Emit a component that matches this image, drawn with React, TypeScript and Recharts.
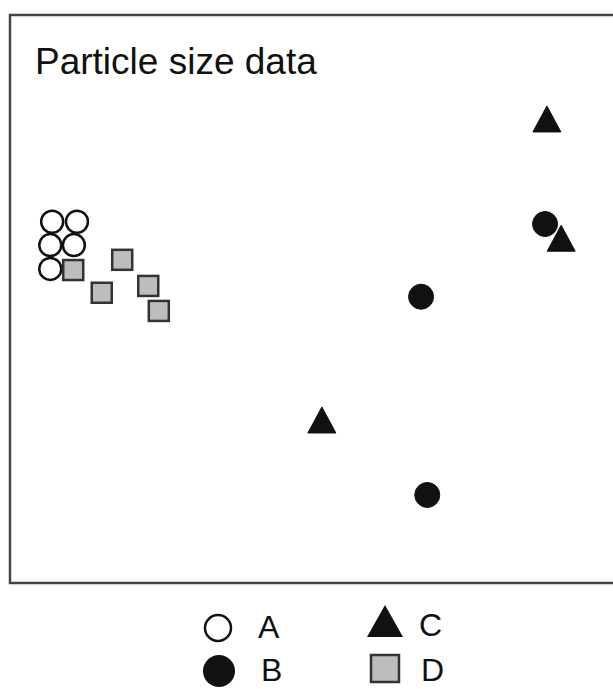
import React from "react";
import { ScatterChart, Scatter, XAxis, YAxis, ReferenceArea, Customized } from "recharts";

const chartTitle = "Particle size data";
const seriesNames = ["A", "B", "C", "D"];

const seriesA = [
  { x: 0.68, y: 6.36 },
  { x: 1.08, y: 6.36 },
  { x: 0.65, y: 5.95 },
  { x: 1.03, y: 5.95 },
  { x: 0.65, y: 5.53 },
];
const seriesB = [
  { x: 8.63, y: 6.32 },
  { x: 6.63, y: 5.04 },
  { x: 6.73, y: 1.55 },
];
const seriesC = [
  { x: 8.66, y: 8.17 },
  { x: 8.89, y: 6.07 },
  { x: 5.03, y: 2.87 },
];
const seriesD = [
  { x: 1.02, y: 5.51 },
  { x: 1.81, y: 5.69 },
  { x: 1.48, y: 5.11 },
  { x: 2.23, y: 5.23 },
  { x: 2.4, y: 4.79 },
];

const FONT = "'Liberation Sans', Arial, Helvetica, sans-serif";

const OpenCircle = (p: any) => (
  <circle cx={p.cx} cy={p.cy} r={11} fill="#fff" stroke="#111" strokeWidth={2.5} />
);
const FilledCircle = (p: any) => (
  <circle cx={p.cx} cy={p.cy} r={12.5} fill="#111" stroke="#111" strokeWidth={1} />
);
const Triangle = (p: any) => {
  const w = 28;
  const h = 26;
  const { cx, cy } = p;
  return (
    <polygon
      points={`${cx},${cy - h / 2} ${cx + w / 2},${cy + h / 2} ${cx - w / 2},${cy + h / 2}`}
      fill="#111"
      stroke="#111"
      strokeWidth={1}
    />
  );
};
const Square = (p: any) => (
  <rect x={p.cx - 10} y={p.cy - 10} width={20} height={20} fill="#bdbdbd" stroke="#333" strokeWidth={2.5} />
);

const LegendBlock = () => (
  <g transform="translate(190,600)">
    <circle cx={28} cy={28} r={13} fill="#fff" stroke="#111" strokeWidth={2.5} />
    <text x={68} y={38} fontFamily={FONT} fontSize={32} fill="#111">{seriesNames[0]}</text>
    <circle cx={29} cy={71} r={16} fill="#111" />
    <text x={71} y={81} fontFamily={FONT} fontSize={32} fill="#111">{seriesNames[1]}</text>
    <polygon points="195,5 213,37 177,37" fill="#111" />
    <text x={229} y={36} fontFamily={FONT} fontSize={32} fill="#111">{seriesNames[2]}</text>
    <rect x={181} y={55} width={28} height={27} fill="#bdbdbd" stroke="#333" strokeWidth={2.5} />
    <text x={231} y={81} fontFamily={FONT} fontSize={32} fill="#111">{seriesNames[3]}</text>
  </g>
);

export default function App() {
  return (
    <div
      style={{
        position: "absolute",
        left: 0,
        top: 0,
        width: 613,
        height: 689,
        overflow: "hidden",
        background: "#fff",
      }}
    >
      <ScatterChart width={640} height={689} margin={{ top: 15, right: 10, bottom: 106, left: 10 }}>
        <XAxis type="number" dataKey="x" domain={[0, 10]} hide />
        <YAxis type="number" dataKey="y" domain={[0, 10]} hide />
        <ReferenceArea x1={0} x2={10} y1={0} y2={10} fill="none" stroke="#444" strokeWidth={2.5} />
        <Customized
          component={() => (
            <text x={35} y={74} fontFamily={FONT} fontSize={37} fill="#111">
              {chartTitle}
            </text>
          )}
        />
        <Scatter name={seriesNames[0]} data={seriesA} shape={OpenCircle} isAnimationActive={false} />
        <Scatter name={seriesNames[3]} data={seriesD} shape={Square} isAnimationActive={false} />
        <Scatter name={seriesNames[1]} data={seriesB} shape={FilledCircle} isAnimationActive={false} />
        <Scatter name={seriesNames[2]} data={seriesC} shape={Triangle} isAnimationActive={false} />
        <Customized component={LegendBlock} />
      </ScatterChart>
    </div>
  );
}
